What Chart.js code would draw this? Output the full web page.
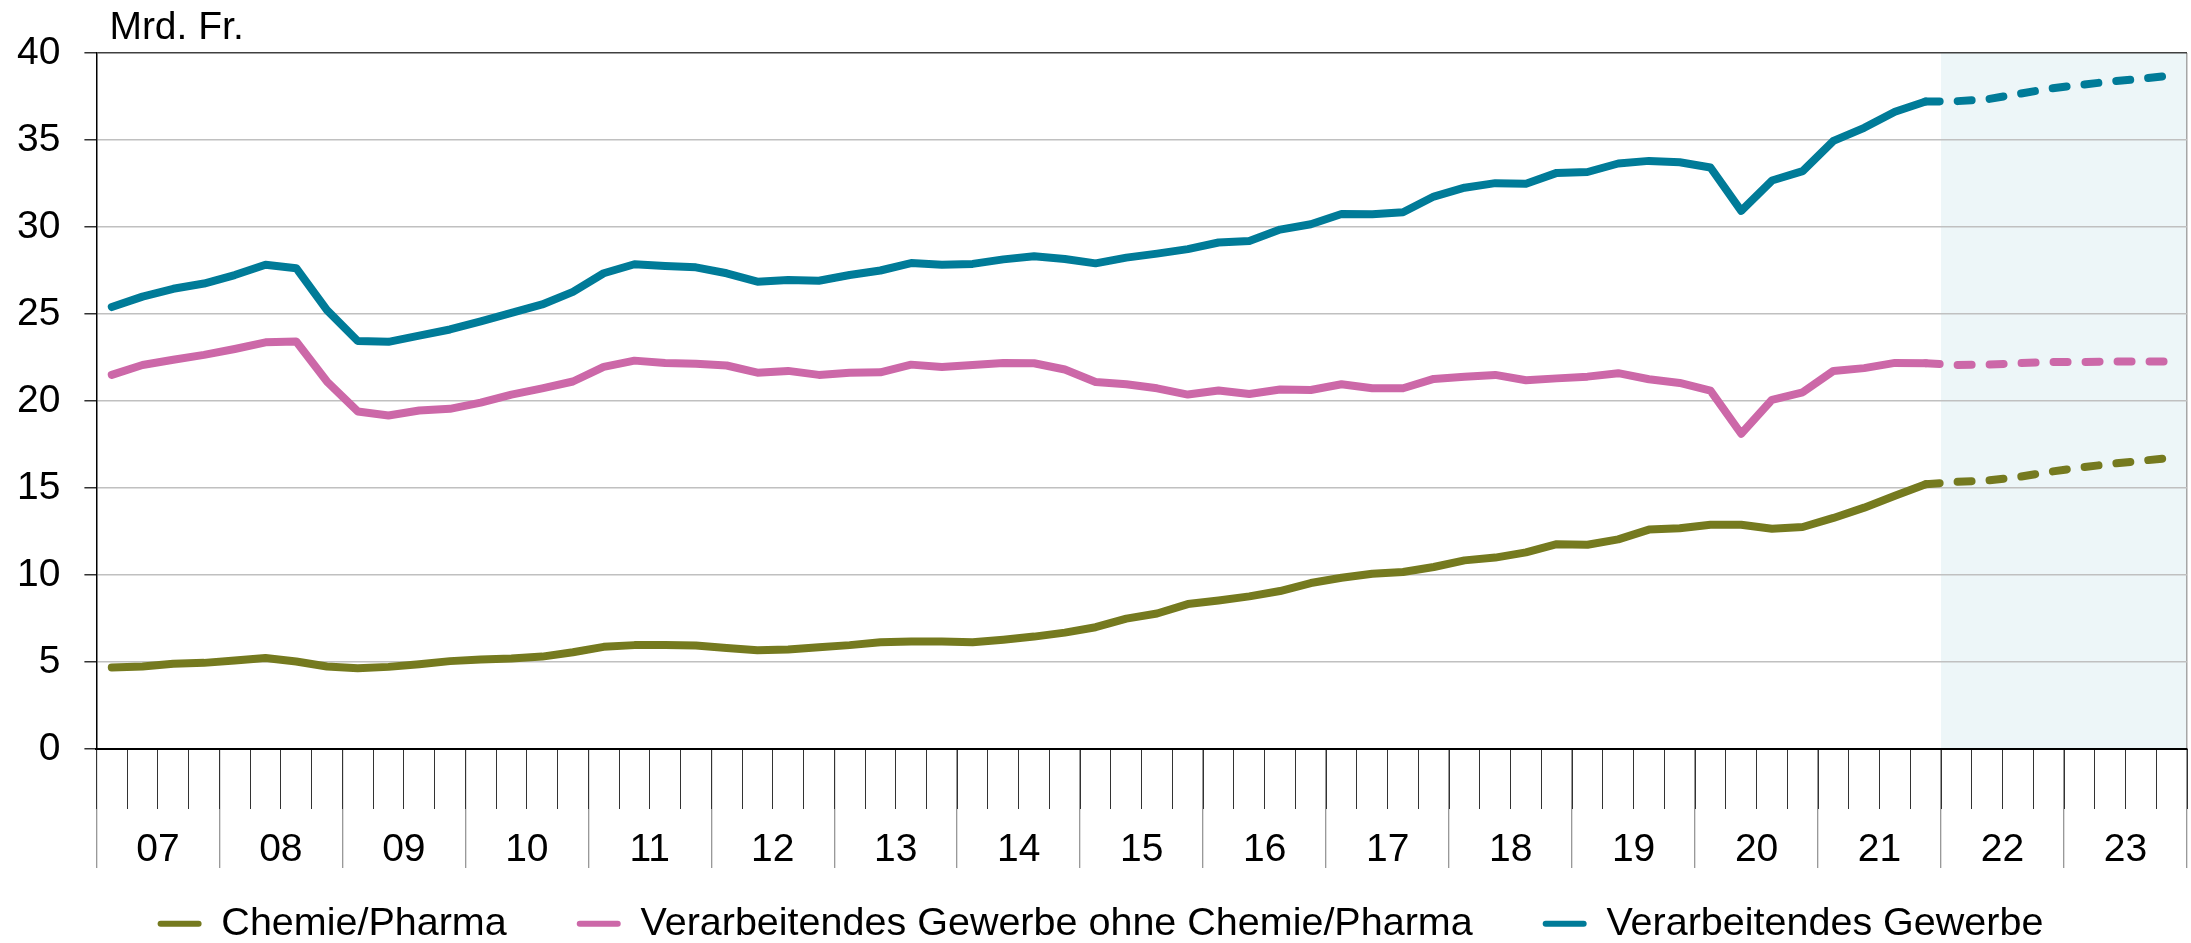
<!DOCTYPE html>
<html>
<head>
<meta charset="utf-8">
<script src="https://cdn.jsdelivr.net/npm/chart.js@4/dist/chart.umd.min.js"></script>
<style>
  html, body { margin: 0; padding: 0; background: #ffffff; }
  #wrap { width: 2191px; height: 943px; position: relative; }
</style>
</head>
<body>
<div id="wrap"><canvas id="c"></canvas></div>
<script>
// ---- Data (quarterly, 2007 Q1 – 2023 Q4; from 2022 Q1 forecast) ----
const yearLabels = ['07','08','09','10','11','12','13','14','15','16','17','18','19','20','21','22','23'];

const chemiePharma = [
  4.69, 4.74, 4.90, 4.95, 5.08, 5.23, 5.03, 4.74, 4.64, 4.72, 4.87, 5.05, 5.15, 5.20, 5.31, 5.56, 5.87,
  5.97, 5.97, 5.95, 5.80, 5.67, 5.72, 5.85, 5.97, 6.13, 6.18, 6.18, 6.13, 6.28, 6.46, 6.69, 7.00, 7.49,
  7.79, 8.33, 8.54, 8.77, 9.08, 9.54, 9.84, 10.07, 10.17, 10.46, 10.84, 11.00, 11.30, 11.77, 11.74, 12.05, 12.61,
  12.69, 12.89, 12.89, 12.66, 12.76, 13.28, 13.87, 14.56, 15.22, 15.35, 15.43, 15.63, 15.92, 16.17, 16.38, 16.56, 16.74
];

const ohneChemiePharma = [
  21.50, 22.07, 22.37, 22.65, 22.99, 23.37, 23.42, 21.12, 19.40, 19.17, 19.45, 19.55, 19.91, 20.37, 20.73, 21.12, 21.96,
  22.32, 22.19, 22.14, 22.04, 21.63, 21.73, 21.50, 21.63, 21.65, 22.09, 21.96, 22.07, 22.19, 22.17, 21.81, 21.09, 20.96,
  20.73, 20.37, 20.60, 20.40, 20.66, 20.63, 20.96, 20.73, 20.73, 21.27, 21.40, 21.50, 21.19, 21.30, 21.40, 21.60, 21.25,
  21.04, 20.60, 18.12, 20.07, 20.50, 21.73, 21.89, 22.19, 22.17, 22.07, 22.09, 22.17, 22.24, 22.24, 22.27, 22.27, 22.27
];

const verarbeitendesGewerbe = [
  25.40, 26.00, 26.45, 26.75, 27.24, 27.83, 27.63, 25.22, 23.45, 23.40, 23.76, 24.11, 24.58, 25.06, 25.55, 26.27, 27.34,
  27.86, 27.76, 27.68, 27.34, 26.86, 26.96, 26.91, 27.24, 27.50, 27.93, 27.83, 27.88, 28.14, 28.32, 28.16, 27.91, 28.24,
  28.47, 28.73, 29.11, 29.19, 29.85, 30.16, 30.75, 30.73, 30.85, 31.75, 32.26, 32.52, 32.49, 33.11, 33.16, 33.65, 33.80,
  33.72, 33.42, 30.93, 32.67, 33.21, 34.95, 35.70, 36.62, 37.21, 37.23, 37.34, 37.64, 37.95, 38.16, 38.36, 38.51, 38.72
];

const seriesNames  = ['Chemie/Pharma', 'Verarbeitendes Gewerbe ohne Chemie/Pharma', 'Verarbeitendes Gewerbe'];
const seriesColors = ['#757A1F', '#CC68A8', '#007B98'];
const unitLabel = 'Mrd. Fr.';
const lastActualIndex = 59;       // 2021 Q4 – last observed quarter
const forecastStartQuarter = 60;  // shading starts at 2022 Q1
const yTicksMax = 40, yTicksStep = 5;

// ---- Chart ----
const nQuarters = yearLabels.length * 4;
const FAMILY = '"Liberation Sans", Arial, Helvetica, sans-serif';
const LINE_W = 8;
const DASH = [14, 18];

function toPoints(values, from, to) {
  const pts = [];
  for (let i = from; i <= to; i++) pts.push({ x: i + 0.5, y: values[i] });
  return pts;
}

const shadePlugin = {
  id: 'forecastShade',
  beforeDraw(chart) {
    const { ctx, chartArea: a, scales } = chart;
    const x0 = scales.x.getPixelForValue(forecastStartQuarter);
    ctx.save();
    ctx.fillStyle = '#EDF6F8';
    ctx.fillRect(x0, a.top, a.right - x0, a.bottom - a.top);
    ctx.restore();
  }
};

const unitPlugin = {
  id: 'unitLabel',
  afterDraw(chart) {
    const { ctx, chartArea: a } = chart;
    ctx.save();
    ctx.font = '39px ' + FAMILY;
    ctx.fillStyle = '#000';
    ctx.textAlign = 'left';
    ctx.textBaseline = 'alphabetic';
    ctx.fillText(unitLabel, a.left + 13, 39);
    ctx.restore();
  }
};

const series = [chemiePharma, ohneChemiePharma, verarbeitendesGewerbe];

function lineDataset(k, from, to, dashed) {
  return {
    label: seriesNames[k],
    data: toPoints(series[k], from, to),
    xAxisID: 'x',
    yAxisID: 'y',
    borderColor: seriesColors[k],
    backgroundColor: seriesColors[k],
    borderWidth: LINE_W,
    borderDash: dashed ? DASH : [],
    borderCapStyle: 'round',
    borderJoinStyle: 'round',
    pointRadius: 0,
    pointHoverRadius: 0,
    tension: 0,
    fill: false,
    forecast: dashed
  };
}

const datasets = [];
series.forEach((_, k) => datasets.push(lineDataset(k, 0, lastActualIndex, false)));
series.forEach((_, k) => datasets.push(lineDataset(k, lastActualIndex, nQuarters - 1, true)));

new Chart(document.getElementById('c'), {
  type: 'line',
  data: { datasets },
  plugins: [shadePlugin, unitPlugin],
  options: {
    responsive: true,
    maintainAspectRatio: false,
    devicePixelRatio: 1,
    animation: false,
    events: [],
    layout: { padding: { left: 14, right: 4, top: 53, bottom: 0 } },
    scales: {
      // main x axis: year boundary lines + right frame line
      x: {
        type: 'linear',
        position: 'bottom',
        min: 0,
        max: nQuarters,
        afterBuildTicks: s => {
          s.ticks = Array.from({ length: yearLabels.length + 1 }, (_, k) => ({ value: 4 * k }));
        },
        afterFit: s => { s.height = 85; },
        grid: {
          drawOnChartArea: true,
          color: c => (c.tick && c.tick.value === nQuarters) ? '#A6A6A6' : 'rgba(0,0,0,0)',
          lineWidth: 1.5,
          drawTicks: true,
          tickLength: 119,
          tickColor: '#777',
          tickWidth: 1
        },
        border: { color: '#000', width: 2 },
        ticks: { display: false }
      },
      // quarter ticks and year labels, anchored at y = 0
      xQuarters: {
        type: 'linear',
        axis: 'x',
        position: { y: 0 },
        min: 0,
        max: nQuarters,
        afterBuildTicks: s => {
          s.ticks = Array.from({ length: nQuarters + 1 }, (_, k) => ({ value: k }));
        },
        grid: {
          drawOnChartArea: false,
          drawTicks: true,
          tickLength: 60,
          tickColor: '#333',
          tickWidth: 1
        },
        border: { display: false },
        ticks: {
          autoSkip: false,
          maxRotation: 0,
          minRotation: 0,
          padding: 0,
          color: '#000',
          font: { family: FAMILY, size: 39, lineHeight: 2.1 },
          callback: v => (v % 4 === 2) ? yearLabels[(v - 2) / 4] : ''
        }
      },
      y: {
        min: 0,
        max: yTicksMax,
        afterFit: s => { s.width = 82.4; },
        ticks: {
          stepSize: yTicksStep,
          padding: 24,
          color: '#000',
          font: { family: FAMILY, size: 39 }
        },
        grid: {
          color: c => (c.tick.value === yTicksMax) ? '#404040' : (c.tick.value === 0 ? '#000' : '#C0C0C0'),
          lineWidth: 1.5,
          tickLength: 12,
          tickColor: '#333',
          tickWidth: 1.5
        },
        border: { color: '#000', width: 1.5 }
      }
    },
    plugins: {
      tooltip: { enabled: false },
      title: { display: false },
      legend: {
        display: true,
        position: 'bottom',
        maxHeight: 109,
        labels: {
          boxWidth: 44,
          boxHeight: 6,
          padding: 70,
          color: '#000',
          useBorderRadius: true,
          font: { family: FAMILY, size: 39.5 },
          filter: (item, data) => !data.datasets[item.datasetIndex].forecast,
          generateLabels: chart => Chart.defaults.plugins.legend.labels.generateLabels(chart).map(l => ({
            ...l,
            fillStyle: l.strokeStyle,
            lineWidth: 0,
            lineDash: [],
            borderRadius: 3
          }))
        }
      }
    }
  }
});
</script>
</body>
</html>
